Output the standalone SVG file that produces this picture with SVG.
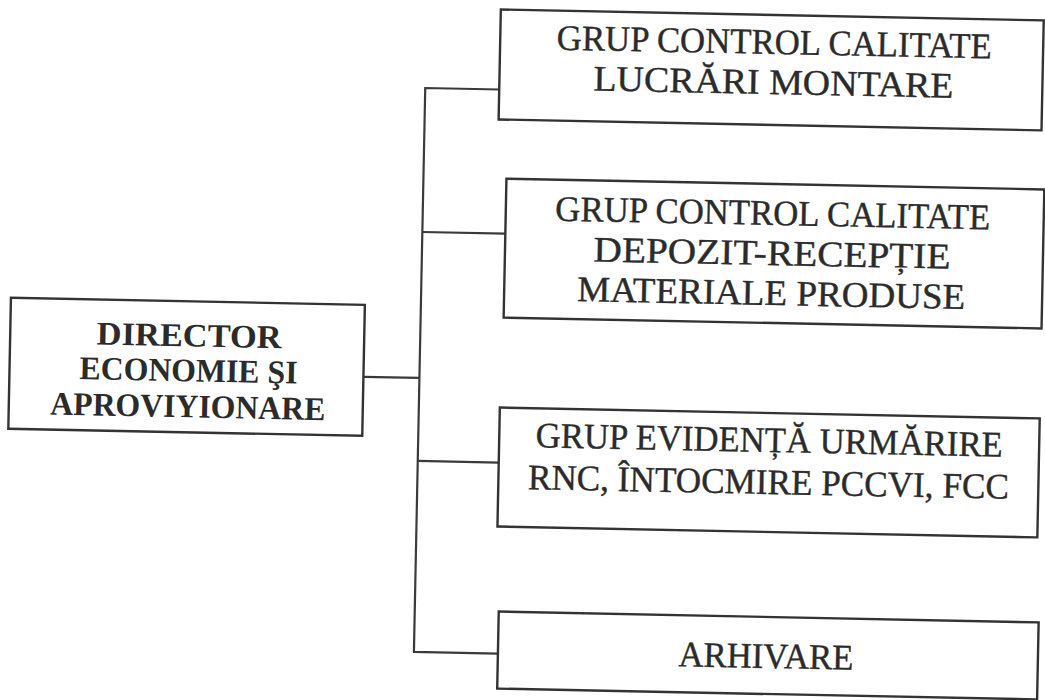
<svg xmlns="http://www.w3.org/2000/svg" width="1045" height="700" viewBox="0 0 1045 700">
  <style>
    .box { fill: none; stroke: #333; stroke-width: 2.4; }
    .wire { fill: none; stroke: #3a3a3a; stroke-width: 2.2; }
    .lbl { font-family: "Liberation Serif", "Times New Roman", serif; font-size: 36px; fill: #2b2b2b; stroke: #2b2b2b; stroke-width: 0.4; text-anchor: middle; }
    .head { font-family: "Liberation Serif", "Times New Roman", serif; font-size: 33px; font-weight: bold; fill: #2b2b2b; text-anchor: middle; }
  </style>
  <rect width="1045" height="700" fill="#ffffff"/>
  <g transform="rotate(1.15 522 350)">
    <g id="connectors">
      <polyline class="wire" points="364,380 420,380"/>
      <polyline class="wire" points="494,90 420,90 420,654 504,654"/>
      <line class="wire" x1="420" y1="234" x2="503" y2="234"/>
      <line class="wire" x1="420" y1="463" x2="501" y2="463"/>
    </g>
    <g id="director">
      <rect class="box" x="10" y="308" width="354" height="131"/>
      <text class="head" x="189" y="353" textLength="185" lengthAdjust="spacingAndGlyphs">DIRECTOR</text>
      <text class="head" x="189" y="388" textLength="218" lengthAdjust="spacingAndGlyphs">ECONOMIE ŞI</text>
      <text class="head" x="189" y="424" textLength="275" lengthAdjust="spacingAndGlyphs">APROVIYIONARE</text>
    </g>
    <g id="grup-lucrari">
      <rect class="box" x="494" y="10" width="543" height="110"/>
      <text class="lbl" x="768" y="49" textLength="435" lengthAdjust="spacingAndGlyphs">GRUP CONTROL CALITATE</text>
      <text class="lbl" x="768" y="89" textLength="360" lengthAdjust="spacingAndGlyphs">LUCRĂRI MONTARE</text>
    </g>
    <g id="grup-depozit">
      <rect class="box" x="503" y="179" width="538" height="139"/>
      <text class="lbl" x="770" y="220" textLength="435" lengthAdjust="spacingAndGlyphs">GRUP CONTROL CALITATE</text>
      <text class="lbl" x="770" y="260" textLength="357" lengthAdjust="spacingAndGlyphs">DEPOZIT-RECEPȚIE</text>
      <text class="lbl" x="770" y="300" textLength="388" lengthAdjust="spacingAndGlyphs">MATERIALE PRODUSE</text>
    </g>
    <g id="grup-evidenta">
      <rect class="box" x="501" y="408" width="540" height="119"/>
      <text class="lbl" x="771" y="447" textLength="467" lengthAdjust="spacingAndGlyphs">GRUP EVIDENȚĂ URMĂRIRE</text>
      <text class="lbl" x="771" y="489" textLength="481" lengthAdjust="spacingAndGlyphs">RNC, ÎNTOCMIRE PCCVI, FCC</text>
    </g>
    <g id="arhivare">
      <rect class="box" x="504" y="612" width="540" height="77"/>
      <text class="lbl" x="772" y="663" textLength="175" lengthAdjust="spacingAndGlyphs">ARHIVARE</text>
    </g>
  </g>
</svg>
